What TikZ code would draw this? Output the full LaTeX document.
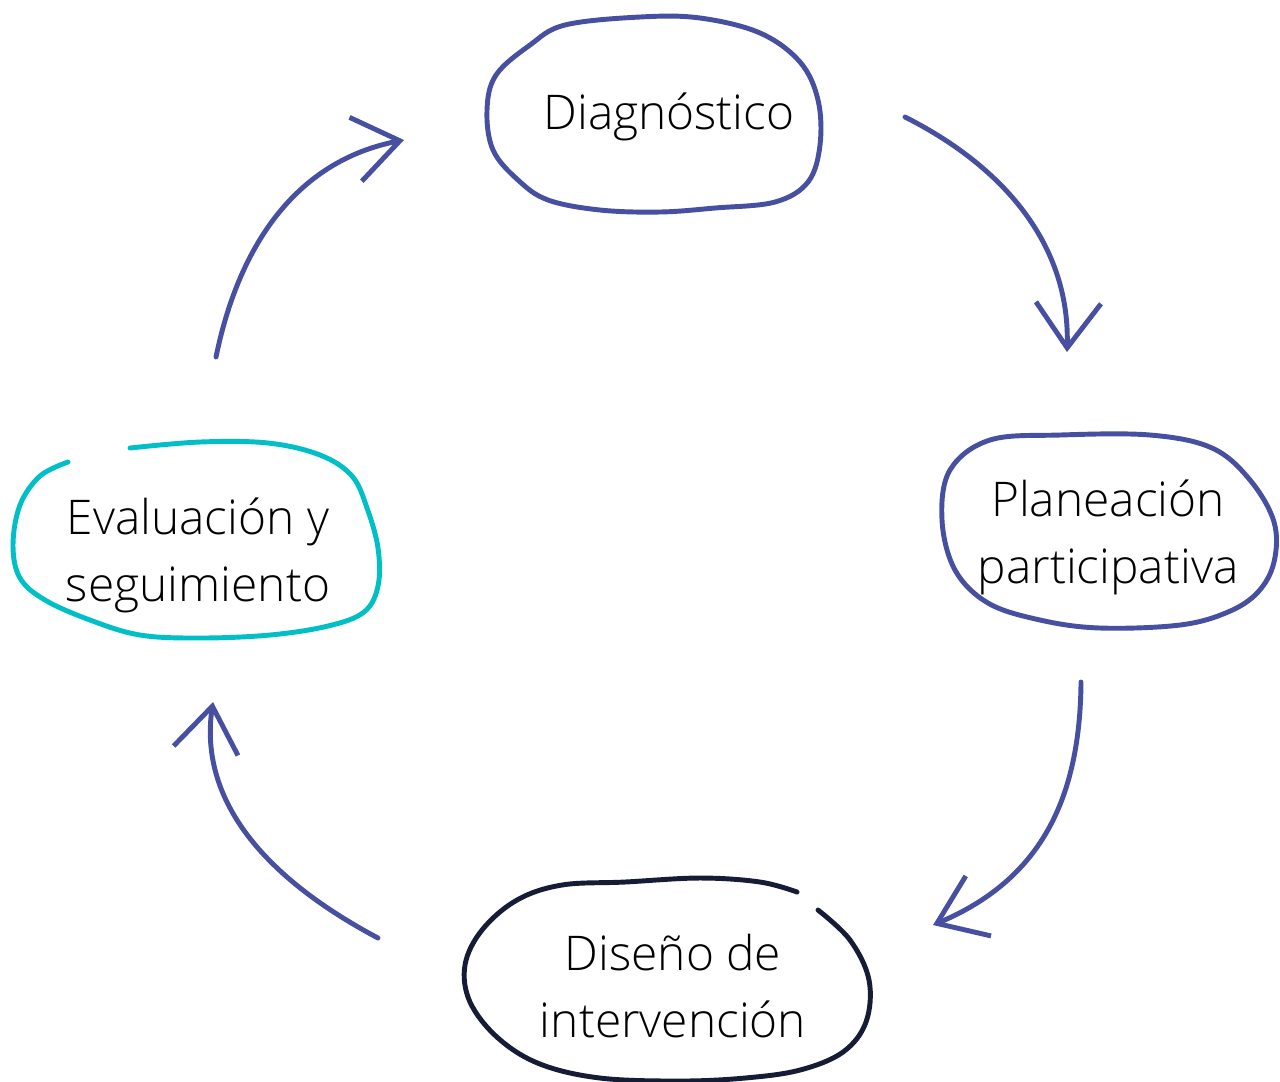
\documentclass[tikz,border=0pt]{standalone}
\usepackage{fontspec}
\setmainfont{Open Sans Light}
\usetikzlibrary{arrows.meta}
\definecolor{cycblue}{HTML}{4750A0}
\definecolor{cyccyan}{HTML}{00BFC6}
\definecolor{cycnavy}{HTML}{161C36}

\begin{document}
\begin{tikzpicture}[x=0.01cm,y=-0.01cm,
			stage/.style={align=center,text=black,font=\fontsize{13.6}{19}\selectfont},
			blob/.style={line width=1.4pt,line cap=round,line join=round},
			flow/.style={draw=cycblue,line width=1.4pt,line cap=round,
				-{Straight Barb[length=4.5mm,width=6.5mm,line width=1.4pt]}}]
			\useasboundingbox (0,0) rectangle (1280,1081);
			% stages
			\node (diag) [stage] at (669,117) {Diagnóstico};
			\node (plan) [stage] at (1108,537) {Planeación\\participativa};
			\node (dise) [stage] at (673,986) {Diseño de\\intervención};
			\node (eval) [stage] at (198,555) {Evaluación y\\seguimiento};
			% outlines
			\draw [blob,cycblue] plot [smooth cycle,tension=0.6] coordinates {
				(530,45) (565,25) (640,17) (700,18) (760,33) (800,62) (818,100)
				(820,145) (808,182) (775,202) (715,208) (660,212) (600,210)
				(548,200) (518,180) (493,150) (487,110) (496,75)};
			\draw [blob,cycblue] plot [smooth cycle,tension=0.6] coordinates {
				(990,440) (1060,435) (1150,435) (1212,448) (1250,480) (1274,522)
				(1274,562) (1258,592) (1228,612) (1180,625) (1100,628) (1040,620)
				(988,603) (955,570) (942,520) (950,470)};
			\draw [blob,cycnavy] plot [smooth,tension=0.6] coordinates {
				(818,910) (850,940) (869,980) (866,1022) (843,1052) (800,1070)
				(745,1078) (680,1081) (600,1078) (540,1064) (498,1038) (470,1002)
				(465,965) (482,930) (517,900) (562,885) (625,882) (700,878)
				(760,882) (797,892)};
			\draw [blob,cyccyan] plot [smooth,tension=0.6] coordinates {
				(130,448) (200,442) (268,443) (320,455) (352,476) (367,508)
				(378,548) (378,586) (364,612) (328,626) (270,635) (200,638)
				(140,635) (90,620) (45,600) (20,578) (13,545) (20,505) (40,476)
				(68,462)};
			% cycle arrows
			\coordinate (a1) at (905,117);  \coordinate (b1) at (1067,352);
			\coordinate (a2) at (1081,682); \coordinate (b2) at (933,925);
			\coordinate (a3) at (378,938);  \coordinate (b3) at (213,702);
			\coordinate (a4) at (216,357);  \coordinate (b4) at (404,140);
			\draw [flow] (a1) .. controls (1010,170) and (1070,250) .. (b1);
			\draw [flow] (a2) .. controls (1080,800) and (1040,880) .. (b2);
			\draw [flow] (a3) .. controls (250,870) and (200,790) .. (b3);
			\draw [flow] (a4) .. controls (240,240) and (300,160) .. (b4);
		\end{tikzpicture}
\end{document}
